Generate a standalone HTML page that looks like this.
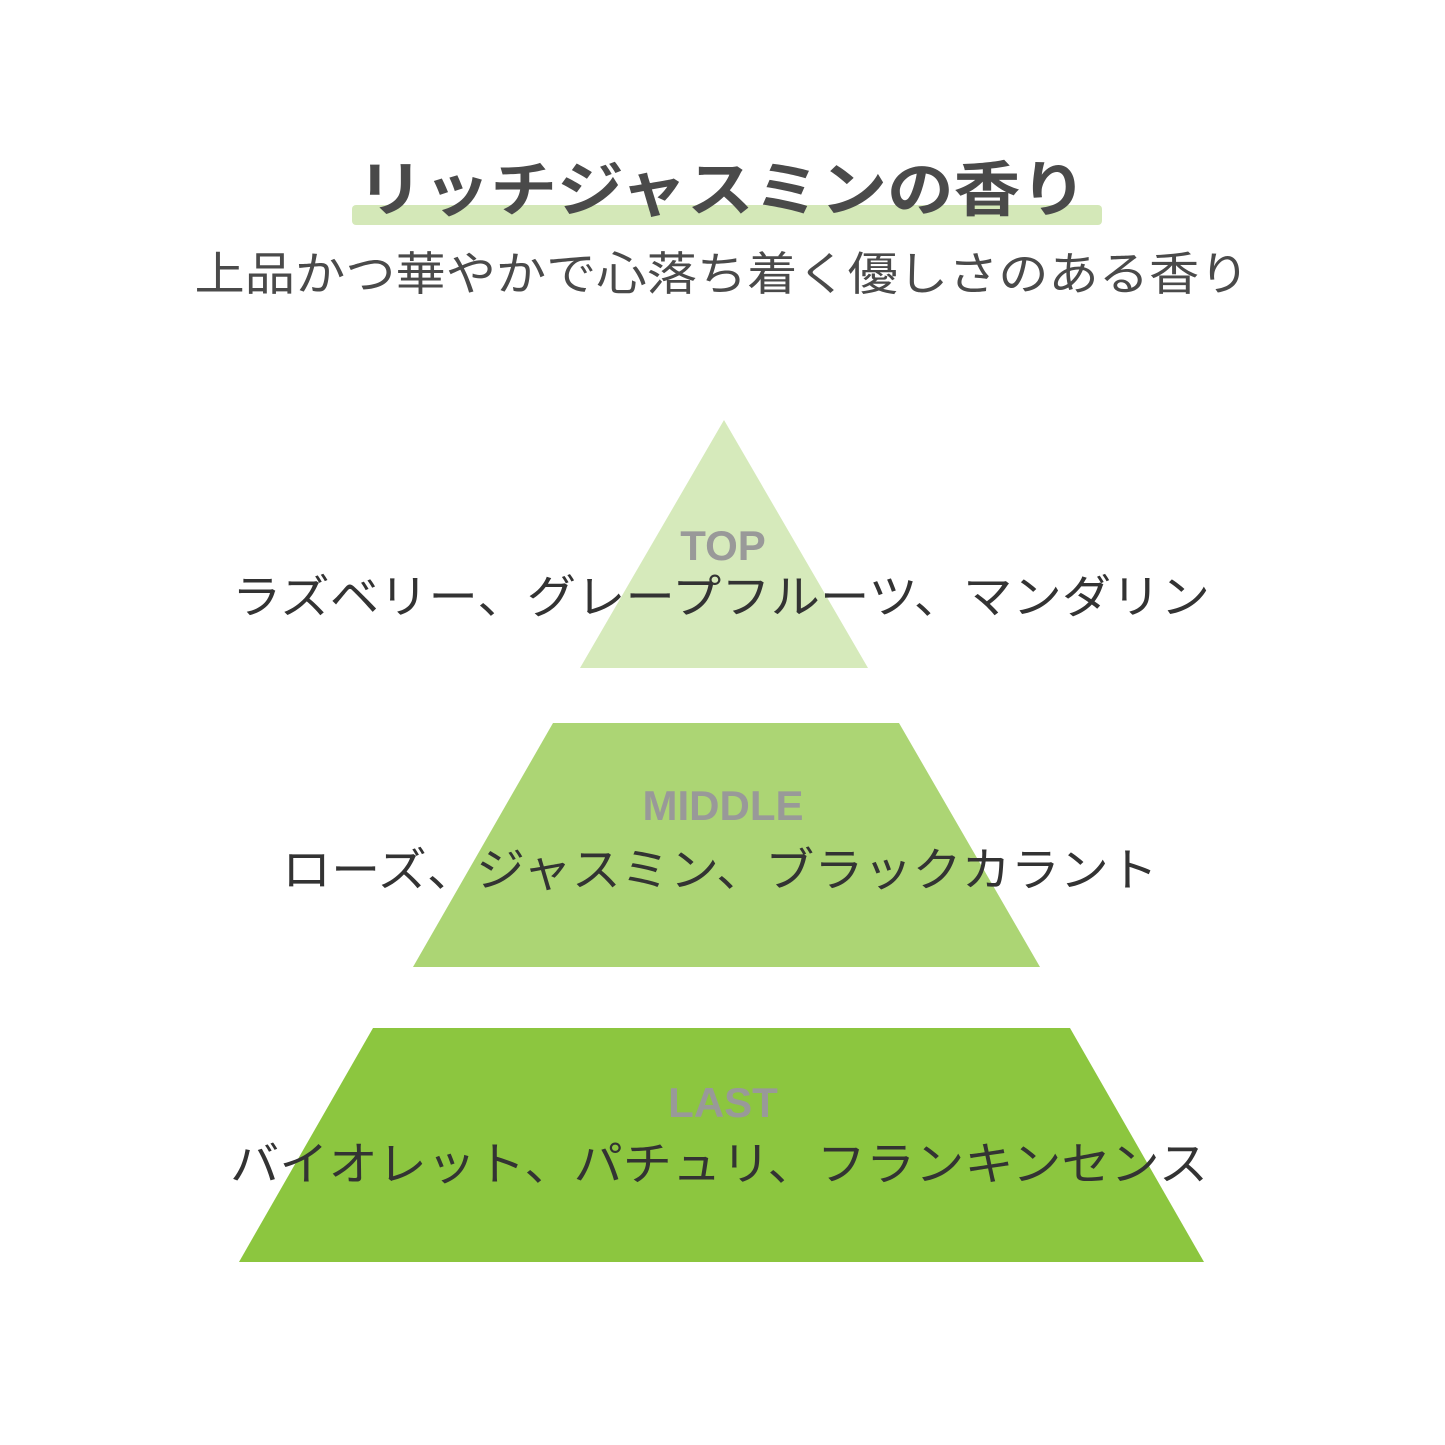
<!DOCTYPE html>
<html><head><meta charset="utf-8"><style>
html,body{margin:0;padding:0;background:#fff;}
svg{display:block;}
text{font-family:"Liberation Sans","Noto Sans CJK JP",sans-serif;}
</style></head><body>
<svg width="1445" height="1445" viewBox="0 0 1445 1445" xmlns="http://www.w3.org/2000/svg">
<rect width="1445" height="1445" fill="#fff"/>
<rect x="352" y="205" width="750" height="20" fill="#d4e8b8" rx="4"/>
<text x="722" y="211" text-anchor="middle" font-size="60" font-weight="bold" fill="#4a4a4a" textLength="730" lengthAdjust="spacingAndGlyphs">リッチジャスミンの香り</text>
<text x="722" y="290" text-anchor="middle" font-size="46" fill="#4a4a4a" textLength="1055" lengthAdjust="spacingAndGlyphs">上品かつ華やかで心落ち着く優しさのある香り</text>
<polygon points="724,420 868,668 580,668" fill="#d6eabb"/>
<polygon points="553,723 899,723 1040,967 413,967" fill="#acd574"/>
<polygon points="373,1028 1070,1028 1204,1262 239,1262" fill="#8cc63f"/>
<text x="723" y="560" text-anchor="middle" font-size="42" font-weight="bold" fill="#999">TOP</text>
<text x="721" y="613" text-anchor="middle" font-size="46" fill="#333" textLength="978" lengthAdjust="spacingAndGlyphs">ラズベリー、グレープフルーツ、マンダリン</text>
<text x="723" y="820" text-anchor="middle" font-size="42" font-weight="bold" fill="#999">MIDDLE</text>
<text x="720" y="886" text-anchor="middle" font-size="46" fill="#333" textLength="876" lengthAdjust="spacingAndGlyphs">ローズ、ジャスミン、ブラックカラント</text>
<text x="723" y="1117" text-anchor="middle" font-size="42" font-weight="bold" fill="#999">LAST</text>
<text x="719" y="1180" text-anchor="middle" font-size="46" fill="#333" textLength="978" lengthAdjust="spacingAndGlyphs">バイオレット、パチュリ、フランキンセンス</text>
</svg>
</body></html>
